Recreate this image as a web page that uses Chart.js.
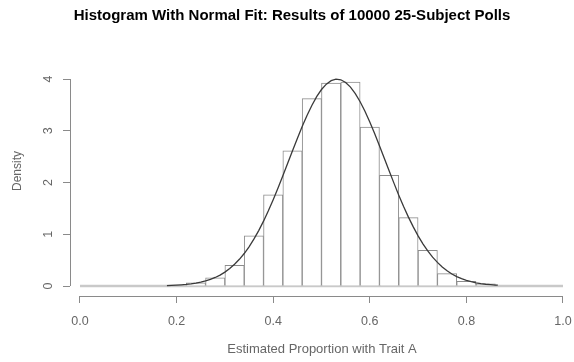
<!DOCTYPE html>
<html>
<head>
<meta charset="utf-8">
<script src="https://cdn.jsdelivr.net/npm/chart.js@4/dist/chart.umd.min.js"></script>
<style>
  html, body { margin: 0; padding: 0; background: #fff; }
  #wrap { width: 574px; height: 362px; }
</style>
</head>
<body>
<div id="wrap"><canvas id="c" width="574" height="362"></canvas></div>
<script>
// Histogram of poll proportions (bin centres, width 0.04) and density heights
const binCenters = [0.20, 0.24, 0.28, 0.32, 0.36, 0.40, 0.44, 0.48, 0.52, 0.56, 0.60, 0.64, 0.68, 0.72, 0.76, 0.80, 0.84];
const binDensity = [0.02, 0.06, 0.16, 0.40, 0.97, 1.76, 2.61, 3.62, 3.92, 3.94, 3.07, 2.14, 1.32, 0.69, 0.24, 0.09, 0.04];

// Fitted normal density curve
const curveX = [0.18, 0.19, 0.20, 0.21, 0.22, 0.23, 0.24, 0.25, 0.26, 0.27, 0.28, 0.29, 0.30, 0.31, 0.32, 0.33, 0.34, 0.35,
  0.36, 0.37, 0.38, 0.39, 0.40, 0.41, 0.42, 0.43, 0.44, 0.45, 0.46, 0.47, 0.48, 0.49, 0.50, 0.51, 0.52, 0.53, 0.54, 0.55,
  0.56, 0.57, 0.58, 0.59, 0.60, 0.61, 0.62, 0.63, 0.64, 0.65, 0.66, 0.67, 0.68, 0.69, 0.70, 0.71, 0.72, 0.73, 0.74, 0.75,
  0.76, 0.77, 0.78, 0.79, 0.80, 0.81, 0.82, 0.83, 0.84, 0.85, 0.86, 0.865];
const curveY = [0.008, 0.011, 0.016, 0.022, 0.030, 0.041, 0.055, 0.074, 0.097, 0.127, 0.165, 0.211, 0.268, 0.337, 0.419, 0.516, 0.628, 0.758,
  0.905, 1.071, 1.253, 1.453, 1.667, 1.894, 2.129, 2.372, 2.613, 2.851, 3.082, 3.296, 3.489, 3.658, 3.797, 3.901, 3.969, 3.997, 3.985, 3.933,
  3.843, 3.718, 3.560, 3.376, 3.170, 2.945, 2.710, 2.468, 2.226, 1.988, 1.756, 1.537, 1.331, 1.142, 0.969, 0.815, 0.678, 0.558, 0.456, 0.368,
  0.294, 0.233, 0.182, 0.141, 0.109, 0.083, 0.062, 0.046, 0.034, 0.025, 0.018, 0.015];

// Zero-height baseline spanning the full proportion range
const baseX = [0.0, 1.0];
const baseY = [0, 0];

// Axis tick values
const xTicks = [0.0, 0.2, 0.4, 0.6, 0.8, 1.0];
const yTicks = [0, 1, 2, 3, 4];

const titleText = 'Histogram With Normal Fit: Results of 10000 25-Subject Polls';
const xTitle = 'Estimated Proportion with Trait A';
const yTitle = 'Density';

const FONT = '"Liberation Sans", Arial, Helvetica, sans-serif';
const AXIS_COLOR = '#8a8a8a';
const TEXT_COLOR = '#666666';

// Axis lines that run only across the tick range, R style
const axisLines = {
  id: 'axisLines',
  afterDraw(chart) {
    const { ctx, chartArea, scales } = chart;
    ctx.save();
    ctx.strokeStyle = AXIS_COLOR;
    ctx.lineWidth = 1;
    const xs = scales.x, ys = scales.y;
    const by = Math.round(chartArea.bottom) + 0.5;
    ctx.beginPath();
    ctx.moveTo(xs.getPixelForValue(xTicks[0]), by);
    ctx.lineTo(xs.getPixelForValue(xTicks[xTicks.length - 1]), by);
    ctx.stroke();
    const lx = Math.round(chartArea.left) + 0.5;
    ctx.beginPath();
    ctx.moveTo(lx, ys.getPixelForValue(yTicks[0]));
    ctx.lineTo(lx, ys.getPixelForValue(yTicks[yTicks.length - 1]));
    ctx.stroke();
    ctx.restore();
  }
};

new Chart(document.getElementById('c'), {
  type: 'bar',
  data: {
    datasets: [
      {
        type: 'line',
        data: curveX.map((x, i) => ({ x, y: curveY[i] })),
        borderColor: '#3a3a3a',
        borderWidth: 1.3,
        pointRadius: 0,
        fill: false,
        tension: 0,
        order: 0
      },
      {
        type: 'bar',
        data: binCenters.map((x, i) => ({ x, y: binDensity[i] })),
        backgroundColor: 'rgba(255,255,255,1)',
        borderColor: '#8c8c8c',
        borderWidth: 1,
        borderSkipped: 'start',
        barPercentage: 1,
        categoryPercentage: 1,
        order: 1
      },
      {
        type: 'line',
        data: baseX.map((x, i) => ({ x, y: baseY[i] })),
        borderColor: '#c9c9c9',
        borderWidth: 2.5,
        pointRadius: 0,
        fill: false,
        order: 2
      }
    ]
  },
  options: {
    responsive: false,
    devicePixelRatio: 1,
    animation: false,
    layout: { padding: { left: 10, right: 0, top: 0, bottom: 0 } },
    plugins: {
      legend: { display: false },
      tooltip: { enabled: false },
      title: {
        display: true,
        text: titleText,
        color: '#000',
        font: { family: FONT, size: 15, weight: 'bold', lineHeight: 1.2 },
        padding: { top: 7, bottom: 21 }
      }
    },
    scales: {
      x: {
        type: 'linear',
        min: -0.0207,
        max: 1.0228,
        offset: false,
        grid: { display: true, offset: false, drawOnChartArea: false, drawTicks: true, tickLength: 7, color: AXIS_COLOR, lineWidth: 1 },
        border: { display: false },
        afterBuildTicks(scale) { scale.ticks = xTicks.map(v => ({ value: v })); },
        afterFit(scale) { scale.height = 66; scale.paddingLeft = 0; scale.paddingRight = 0; },
        ticks: {
          color: TEXT_COLOR,
          font: { family: FONT, size: 12.5 },
          padding: 11,
          maxRotation: 0,
          autoSkip: false,
          callback: v => Number(v).toFixed(1)
        },
        title: {
          display: true,
          text: xTitle,
          color: TEXT_COLOR,
          font: { family: FONT, size: 13 },
          padding: { top: 0, bottom: 4.9 }
        }
      },
      y: {
        type: 'linear',
        min: -0.1932,
        max: 4.638,
        grid: { display: true, offset: false, drawOnChartArea: false, drawTicks: true, tickLength: 7, color: AXIS_COLOR, lineWidth: 1 },
        border: { display: false },
        afterBuildTicks(scale) { scale.ticks = yTicks.map(v => ({ value: v })); },
        afterFit(scale) { scale.width = 60; scale.paddingTop = 0; scale.paddingBottom = 0; },
        ticks: {
          color: TEXT_COLOR,
          font: { family: FONT, size: 12.5 },
          padding: 11,
          minRotation: 90,
          maxRotation: 90,
          crossAlign: 'center',
          autoSkip: false,
          callback: v => String(v)
        },
        title: {
          display: true,
          text: yTitle,
          color: TEXT_COLOR,
          font: { family: FONT, size: 12 },
          padding: { top: 0, bottom: 0 }
        }
      }
    }
  },
  plugins: [axisLines]
});
</script>
</body>
</html>
